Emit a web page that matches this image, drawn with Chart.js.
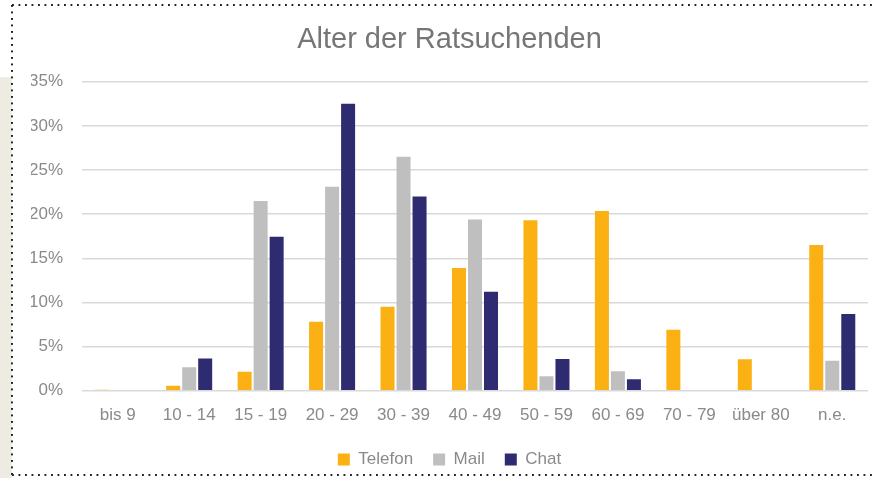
<!DOCTYPE html>
<html lang="de">
<head>
    <meta charset="UTF-8">
    <title>Alter der Ratsuchenden</title>
    <script src="https://cdn.jsdelivr.net/npm/chart.js"></script>
    <style>
        html, body { margin: 0; padding: 0; background: #fff; }
        body { width: 874px; height: 478px; position: relative; overflow: hidden; }
        .strip { position: absolute; left: 0; top: 77px; width: 12px; height: 401px; background: #eeebe2; }
        .dots-h { position: absolute; left: 12px; width: 862px; height: 2px;
            background-image: linear-gradient(to right, #222 2px, transparent 2px);
            background-size: 6.5px 2px; background-repeat: repeat-x; }
        .dots-v { position: absolute; left: 11px; top: 5px; width: 2px; height: 471px;
            background-image: linear-gradient(to bottom, #222 2px, transparent 2px);
            background-size: 2px 6.5px; background-repeat: repeat-y; }
        #wrap { position: absolute; left: 13px; top: 7px; width: 861px; height: 471px; }
    </style>
</head>
<body>
    <div class="strip"></div>
    <div class="dots-h" style="top:4px"></div>
    <div class="dots-h" style="top:474px"></div>
    <div class="dots-v"></div>
    <div id="wrap"><canvas id="myChart"></canvas></div>

    <script>
        // Daten (in Prozent)
        const altersgruppen = ['bis 9', '10 - 14', '15 - 19', '20 - 29', '30 - 39', '40 - 49', '50 - 59', '60 - 69', '70 - 79', 'über 80', 'n.e.'];
        const telefon = [0.1, 0.55, 2.15, 7.8, 9.5, 13.9, 19.3, 20.35, 6.9, 3.55, 16.5];
        const mail    = [0, 2.65, 21.5, 23.1, 26.5, 19.4, 1.65, 2.2, 0, 0, 3.4];
        const chat    = [0, 3.65, 17.45, 32.5, 22.0, 11.2, 3.6, 1.3, 0, 0, 8.7];
        const yTicks  = [0, 5, 10, 15, 20, 25, 30, 35];

        const grau = '#8a8a8a';
        const schrift = 'Liberation Sans, Arial, sans-serif';

        const ctx = document.getElementById('myChart').getContext('2d');
        new Chart(ctx, {
            type: 'bar',
            data: {
                labels: altersgruppen,
                datasets: [
                    { label: 'Telefon', data: telefon, backgroundColor: '#fbb014' },
                    { label: 'Mail', data: mail, backgroundColor: '#bfbfbf' },
                    { label: 'Chat', data: chat, backgroundColor: '#2e2b70' },
                ]
            },
            options: {
                responsive: true,
                maintainAspectRatio: false,
                animation: false,
                layout: { padding: { left: 18, right: 6, top: 0, bottom: 0 } },
                datasets: { bar: { categoryPercentage: 0.672, barPercentage: 0.875 } },
                plugins: {
                    title: {
                        display: true,
                        text: 'Alter der Ratsuchenden',
                        color: '#767676',
                        font: { family: schrift, size: 29, weight: 'normal' },
                        padding: { top: 15.2, bottom: 24.7 }
                    },
                    legend: {
                        position: 'bottom',
                        labels: {
                            color: grau,
                            font: { family: schrift, size: 17 },
                            boxWidth: 12, boxHeight: 12, padding: 20
                        }
                    },
                    tooltip: { enabled: false }
                },
                scales: {
                    x: {
                        grid: { display: false },
                        border: { display: false },
                        ticks: { color: grau, font: { family: schrift, size: 17 }, padding: 6, maxRotation: 0 },
                        afterFit: scale => { scale.height = 40.3; }
                    },
                    y: {
                        min: 0,
                        max: 35,
                        grid: { color: '#d9d9d9', lineWidth: 1.5, drawTicks: false },
                        border: { display: false },
                        afterBuildTicks: scale => { scale.ticks = yTicks.map(v => ({ value: v })); },
                        ticks: { color: grau, font: { family: schrift, size: 17 }, padding: 19, callback: v => v + '%' },
                        afterFit: scale => { scale.width = 51; }
                    }
                }
            }
        });
    </script>
</body>
</html>
